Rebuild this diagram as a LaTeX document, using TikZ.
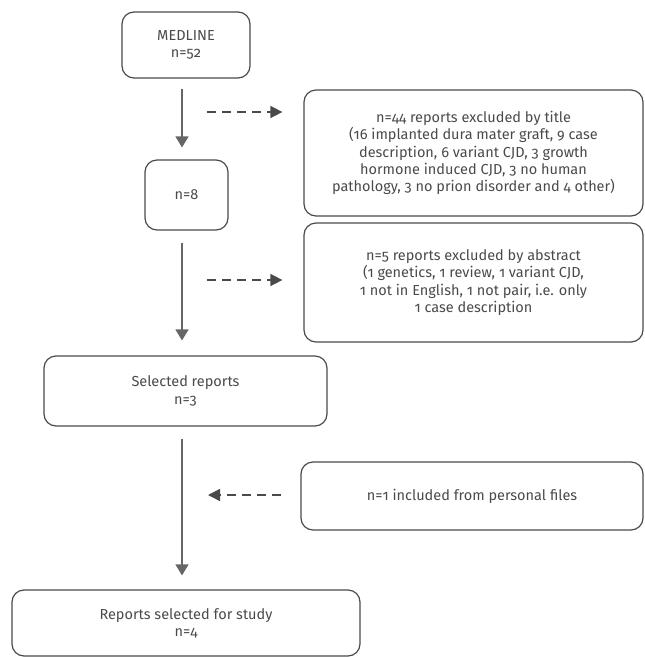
\documentclass[tikz,border=0pt]{standalone}
\usepackage{fontspec}
\setmainfont{Fira Sans}[Numbers=OldStyle]
\usetikzlibrary{arrows.meta}
\definecolor{inkgrey}{HTML}{4A4A4A}
\definecolor{linegrey}{HTML}{666666}
\tikzset{
  stage/.style={draw=inkgrey,line width=1.2pt,rounded corners=12pt,shape=rectangle,
    align=center,inner sep=0pt,text=inkgrey,font=\fontsize{14.5}{17.3}\selectfont},
  flow/.style={draw=linegrey,line width=1.4pt,-{Triangle[length=11pt,width=13pt]},
    shorten <=10pt,shorten >=12pt},
  skip/.style={draw=inkgrey,line width=1.4pt,dash pattern=on 9pt off 6pt,
    -{Triangle[length=12pt,width=12pt]}}
}
\begin{document}
\begin{tikzpicture}[x=1pt,y=-1pt]
\useasboundingbox (0,0) rectangle (645,657);
% boxes
\node[stage,minimum width=128pt,minimum height=66pt](medline) at (186,45){MEDLINE\\n=52};
\node[stage,minimum width=83pt,minimum height=70pt](title8) at (186.5,195){n=8};
\node[stage,minimum width=339pt,minimum height=126pt](bytitle) at (473.5,153){n=44 reports excluded by title\\(16 implanted dura mater graft, 9 case\\description, 6 variant CJD, 3 growth\\hormone induced CJD, 3 no human\\pathology, 3 no prion disorder and 4 other)};
\node[stage,minimum width=339pt,minimum height=119pt](byabstract) at (473.5,282.5){n=5 reports excluded by abstract\\(1 genetics, 1 review, 1 variant CJD,\\1 not in English, 1 not pair, i.e. only\\1 case description};
\node[stage,minimum width=283pt,minimum height=70pt](selected) at (185.5,391){Selected reports\\n=3};
\node[stage,minimum width=342pt,minimum height=68pt](personal) at (472,496){n=1 included from personal files};
\node[stage,minimum width=348pt,minimum height=66pt](study) at (186,623){Reports selected for study\\n=4};
% main flow
\draw[flow] ([xshift=-4pt]medline.south) -- ([xshift=-4.5pt]title8.north);
\draw[flow,shorten <=12pt,shorten >=15pt] ([xshift=-4.5pt]title8.south) -- ([xshift=-3.5pt]selected.north);
\draw[flow,shorten <=12pt,shorten >=14pt] ([xshift=-3.5pt]selected.south) -- ([xshift=-4pt]study.north);
% side arrows
\coordinate (d1) at (207,112);
\coordinate (d2) at (207,280);
\coordinate (d3) at (208,495);
\draw[skip,shorten >=21pt] (d1) -- (d1 -| bytitle.west);
\draw[skip,shorten >=21pt] (d2) -- (d2 -| byabstract.west);
\draw[skip,shorten <=19pt] (d3 -| personal.west) -- (d3);
\end{tikzpicture}
\end{document}
